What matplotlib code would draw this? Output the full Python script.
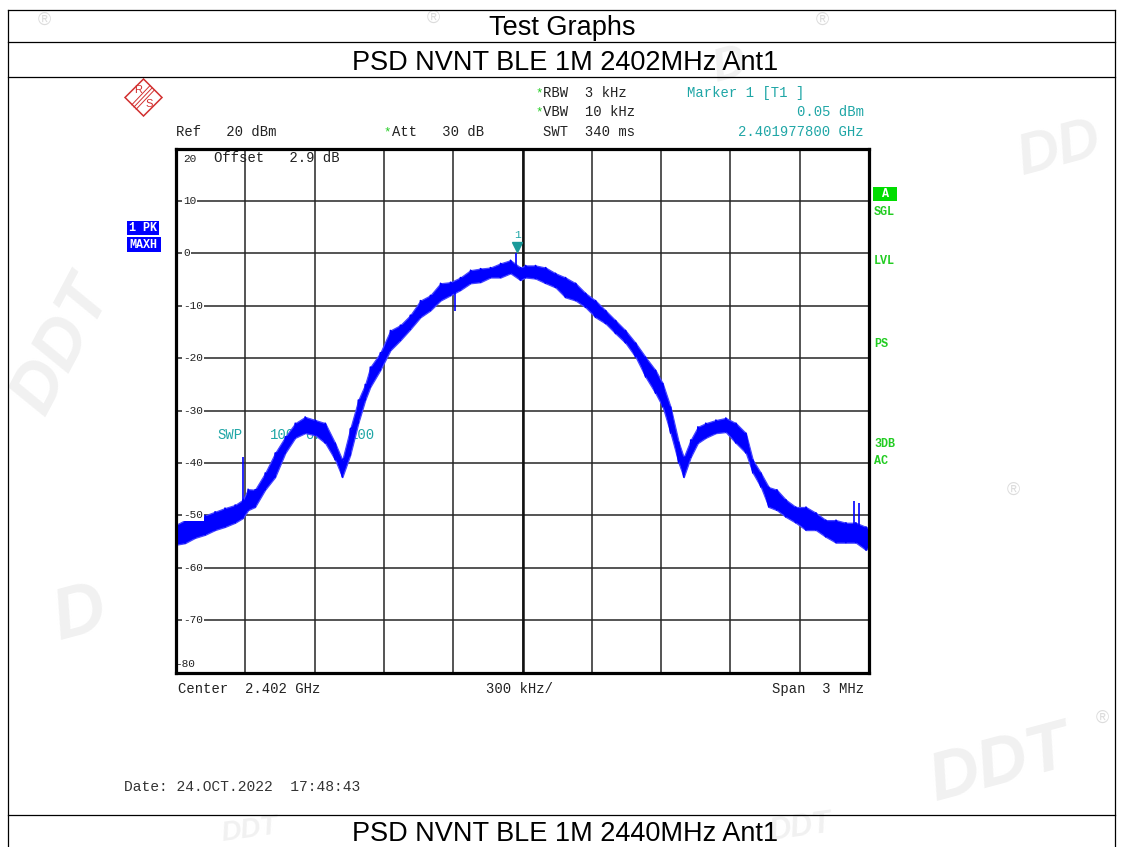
import numpy as np
import matplotlib
matplotlib.use("Agg")
import matplotlib.pyplot as plt
from matplotlib.patches import Polygon, Rectangle
from matplotlib import transforms

plt.rcParams['font.family'] = 'Liberation Sans'

# --- trace (offset from 2.402 GHz in MHz, dBm) ---
freq_mhz = [-1.500, -1.461, -1.418, -1.374, -1.331, -1.288, -1.244, -1.210, -1.188, -1.158,
            -1.114, -1.071, -1.027, -0.984, -0.941, -0.897, -0.854, -0.811, -0.780, -0.746,
            -0.711, -0.681, -0.659, -0.616, -0.572, -0.529, -0.486, -0.442, -0.399, -0.355,
            -0.312, -0.269, -0.225, -0.182, -0.139, -0.095, -0.052, -0.009, 0.013, 0.056,
            0.100, 0.143, 0.186, 0.230, 0.273, 0.316, 0.360, 0.403, 0.446, 0.490,
            0.533, 0.576, 0.607, 0.641, 0.676, 0.698, 0.728, 0.759, 0.793, 0.837,
            0.880, 0.924, 0.967, 0.997, 1.032, 1.066, 1.101, 1.140, 1.183, 1.227,
            1.270, 1.313, 1.357, 1.400, 1.443, 1.487, 1.500]
trace_lo = [-55.6, -55.3, -54.3, -53.7, -52.8, -52.2, -51.4, -50.5, -49.0, -48.4,
            -45.1, -42.7, -38.1, -35.2, -34.3, -34.7, -36.2, -39.4, -42.7, -38.5,
            -32.4, -28.0, -25.5, -22.3, -18.5, -16.6, -14.5, -12.2, -10.9, -9.0,
            -8.0, -7.0, -5.7, -5.5, -4.6, -4.6, -3.8, -5.1, -4.6, -4.8,
            -5.7, -6.5, -8.4, -9.0, -10.3, -12.2, -13.4, -15.3, -17.1, -19.8,
            -23.6, -26.7, -29.3, -34.3, -40.0, -42.7, -38.9, -36.2, -35.2, -34.3,
            -34.1, -36.2, -38.1, -41.9, -44.6, -48.4, -49.0, -50.3, -51.4, -52.8,
            -52.8, -54.1, -55.2, -55.2, -55.2, -56.6, -56.0]
trace_hi = [-51.8, -50.9, -50.5, -50.0, -49.3, -48.6, -48.0, -47.0, -45.0, -45.1,
            -41.9, -38.1, -35.0, -32.4, -31.2, -31.8, -32.4, -36.2, -39.4, -33.5,
            -28.0, -25.0, -21.7, -19.0, -14.7, -13.7, -11.8, -9.0, -8.0, -5.7,
            -5.5, -4.6, -3.2, -2.9, -2.7, -1.9, -1.3, -2.7, -2.3, -2.3,
            -2.7, -3.8, -4.6, -5.7, -7.6, -9.0, -10.9, -12.8, -14.7, -17.1,
            -19.8, -22.3, -24.8, -29.3, -36.0, -38.9, -35.6, -33.1, -32.4, -31.8,
            -31.4, -32.4, -34.3, -39.4, -41.9, -44.6, -45.1, -47.0, -48.4, -48.4,
            -49.5, -50.9, -50.9, -51.4, -51.4, -52.2, -52.5]

# single-sweep-point spikes: position, from, to
spike_f = [-1.210, -0.291, -0.026, 1.435, 1.456]
spike_from = [-50.0, -7.0, -3.5, -53.0, -54.0]
spike_to = [-38.8, -10.9, 0.05, -47.3, -47.6]

marker_f = -0.0222
marker_db = 0.05

y_ticks = list(range(-80, 21, 10))
x_divs = np.linspace(-1.5, 1.5, 11)

MONO = 'Liberation Mono'
CYAN = '#1fa6a6'
GREEN = '#22cc22'
INK = '#222222'

fig = plt.figure(figsize=(11.23, 8.47), dpi=100)

# page layer in pixel coordinates
page = fig.add_axes([0, 0, 1, 1])
page.set_xlim(0, 1123)
page.set_ylim(847, 0)
page.axis('off')

# faint watermarks
for x, y, s, rot, size in [(62, 345, 'DDT', 62, 50), (1060, 150, 'DD', 15, 42),
                           (80, 615, 'D', 15, 52), (1000, 765, 'DDT', 15, 50),
                           (800, 828, 'DDT', 8, 22), (250, 830, 'DDT', 8, 20),
                           (730, 66, 'D', 15, 34)]:
    page.text(x, y, s, fontsize=size, fontweight='bold', fontstyle='italic',
              color='#f1f1f1', rotation=rot, ha='center', va='center', zorder=0)
for x, y in [(44, 20), (433, 18), (822, 20), (1102, 718), (1013, 490)]:
    page.text(x, y, '\u00ae', fontsize=13, color='#dcdcdc', ha='center', va='center', zorder=0)

# report table lines
for y in [10, 42, 77, 815]:
    page.plot([8, 1115], [y, y], color='black', lw=0.9)
for x in [8, 1115]:
    page.plot([x, x], [10, 847], color='black', lw=0.9)

page.text(562, 28, 'Test Graphs', fontsize=19.5, ha='center', va='center')
page.text(565, 63, 'PSD NVNT BLE 1M 2402MHz Ant1', fontsize=19.5, ha='center', va='center')
page.text(565, 834, 'PSD NVNT BLE 1M 2440MHz Ant1', fontsize=19.5, ha='center', va='center')

# R&S logo
page.add_patch(Polygon([(143.5, 79), (162, 97.5), (143.5, 116), (125, 97.5)],
                       closed=True, fill=False, edgecolor='#d23030', lw=1.1))
for d in [-2.2, 0, 2.2]:
    page.plot([152 + d, 134 + d], [88 + d, 107 + d], color='#d23030', lw=0.7)
page.text(138, 90, 'R', fontsize=8, color='#d23030', ha='center', va='center')
page.text(149, 104, 'S', fontsize=8, color='#d23030', ha='center', va='center')

def mono(x, y, s, color=INK, size=10, ha='left', **kw):
    page.text(x, y, s, family=MONO, fontsize=size, color=color, ha=ha, va='center', **kw)

# analyzer header
mono(535, 93, '*', color=GREEN, size=9)
mono(535, 112, '*', color=GREEN, size=9)
mono(383, 132, '*', color=GREEN, size=9)
mono(543, 93, 'RBW  3 kHz')
mono(543, 112, 'VBW  10 kHz')
mono(543, 132, 'SWT  340 ms')
mono(176, 132, 'Ref   20 dBm')
mono(392, 132, 'Att   30 dB')
mono(687, 93, 'Marker 1 [T1 ]', color=CYAN)
mono(864, 112, '0.05 dBm', color=CYAN, ha='right')
mono(864, 132, '2.401977800 GHz', color=CYAN, ha='right')
mono(214, 158, 'Offset   2.9 dB')

# sweep counter (sits under the trace)
mono(217, 435, 'SWP', color=CYAN)
mono(270, 435, '100', color=CYAN)
mono(305, 435, 'of', color=CYAN)
mono(350, 435, '100', color=CYAN)

# trace status boxes on the left
for (x0, y0, w, h), s in [((127, 221, 32, 14), '1 PK'), ((127, 237, 34, 15), 'MAXH')]:
    page.add_patch(Rectangle((x0, y0), w, h, facecolor='#0000ff', edgecolor='none'))
    page.text(x0 + 2, y0 + h / 2, s, family=MONO, fontsize=8.5, fontweight='bold',
              color='white', ha='left', va='center')

# right side enhancement labels
page.add_patch(Rectangle((873, 187), 24, 14, facecolor='#00dd00', edgecolor='none'))
page.text(885, 194, 'A', family=MONO, fontsize=8.5, fontweight='bold', color='white',
          ha='center', va='center')
for y, s in [(212, 'SGL'), (261, 'LVL'), (344, 'PS'), (444, '3DB'), (461, 'AC')]:
    page.text(874, y, s, family=MONO, fontsize=8.5, fontweight='bold', color=GREEN,
              ha='left', va='center')

# footer of the screen
mono(178, 689, 'Center  2.402 GHz')
mono(486, 689, '300 kHz/')
mono(864, 689, 'Span  3 MHz', ha='right')
mono(124, 787, 'Date: 24.OCT.2022  17:48:43', size=10.5, color='#333333')

# spectrum display
ax = fig.add_axes([176 / 1123, (847 - 672.6) / 847, 693 / 1123, 524 / 847])
ax.set_facecolor('none')
ax.set_xlim(-1.5, 1.5)
ax.set_ylim(-80, 20)
ax.set_xticks(x_divs)
ax.set_yticks(y_ticks)
ax.tick_params(length=0, labelbottom=False, labelleft=False)
ax.set_axisbelow(True)
ax.grid(True, color='#262626', lw=1.1)
ax.axvline(0, color='#111111', lw=1.8, zorder=0.6)
for sp in ax.spines.values():
    sp.set_linewidth(2.3)
    sp.set_color('black')

label_tf = transforms.blended_transform_factory(ax.transAxes, ax.transData)
for v in y_ticks:
    if v in (20, -80):
        continue
    ax.text(0.0105, v, str(v), transform=label_tf, family=MONO, fontsize=8, color=INK,
            ha='left', va='center', zorder=3,
            bbox=dict(facecolor='white', edgecolor='none', pad=0.6))
ax.annotate('20', (0.0105, 20), xycoords=label_tf, xytext=(0, -5), textcoords='offset pixels',
            family=MONO, fontsize=8, color=INK, ha='left', va='top')
ax.annotate('-80', (0.0, -80), xycoords=label_tf, xytext=(-1, 4), textcoords='offset pixels',
            family=MONO, fontsize=8, color=INK, ha='left', va='bottom')

# band between the noise floor and the peaks, plus a sawtooth through both edges
ax.fill_between(freq_mhz, trace_lo, trace_hi, facecolor='#0000ff', edgecolor='#4646ff',
                lw=0.9, zorder=2)
zig_f = np.repeat(freq_mhz, 2)
zig_db = np.column_stack([trace_lo, trace_hi]).ravel()
ax.plot(zig_f, zig_db, color='#0000ff', lw=1.1, zorder=2.1)
ax.vlines(spike_f, spike_from, spike_to, color='#0000ff', lw=1.2, zorder=2)

tri_tf = transforms.offset_copy(ax.transData, fig=fig, x=0, y=6, units='dots')
ax.plot([marker_f], [marker_db], marker='v', markersize=7, color='#1a9a9a',
        transform=tri_tf, zorder=4, clip_on=False)
ax.annotate('1', (marker_f, marker_db), xytext=(0, 18), textcoords='offset pixels',
            family=MONO, fontsize=8, color=CYAN, ha='center', va='center')

fig.savefig('out.png', dpi=100)
